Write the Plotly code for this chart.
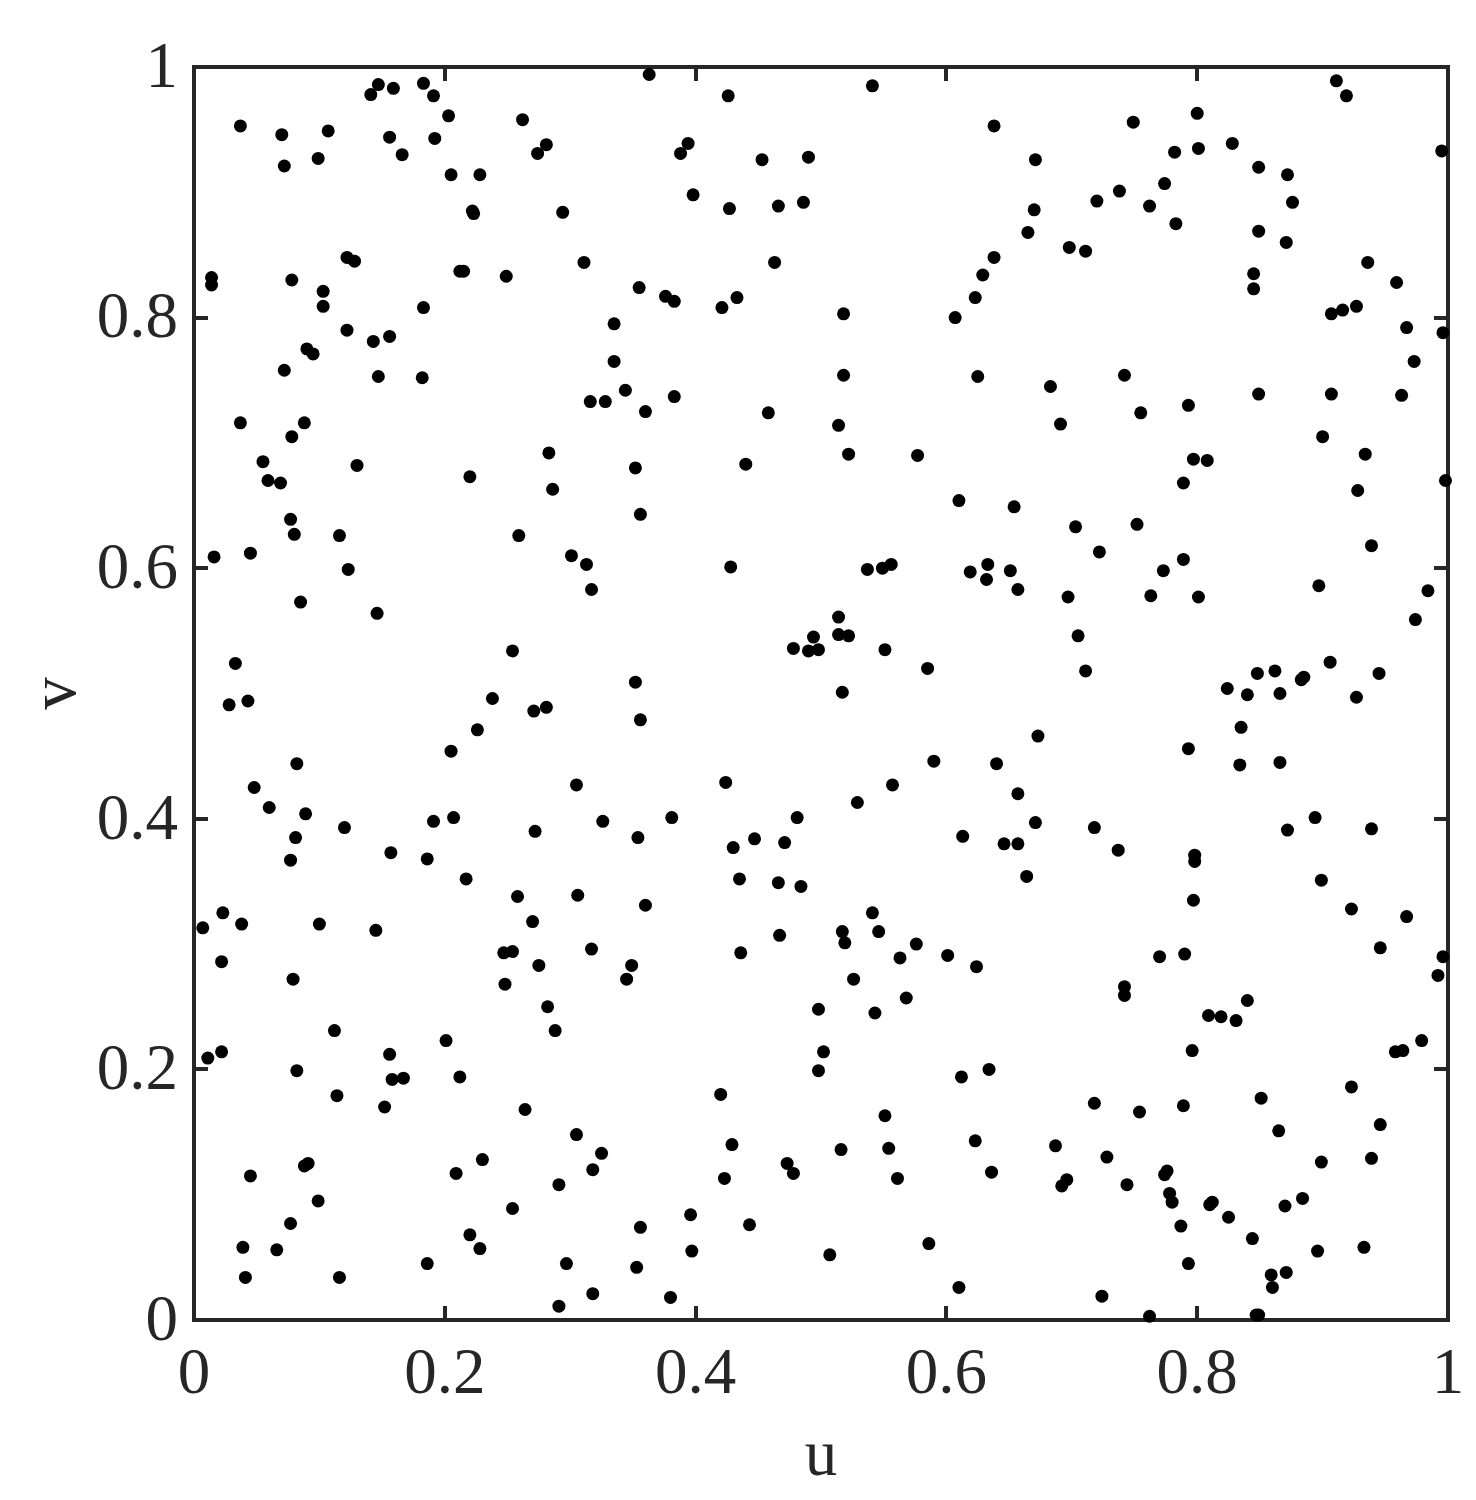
import plotly.graph_objects as go

# points, top to bottom
u = [
    .363, .147, .183, .159, .141, .191, .541, .911, .919, .426, .203, .800, .037, .262, .749, .638,
    .107, .070, .156, .192, .281, .394, .828, .166, .274, .388, .801, .782, .099, .453, .490, .995,
    .072, .671, .849, .205, .228, .872, .774, .398, .738, .720, .486, .876, .762, .427, .466, .222,
    .223, .294, .670, .783, .849, .665, .871, .698, .711, .014, .014, .122, .128, .311, .463, .638,
    .936, .212, .215, .249, .629, .845, .078, .959, .103, .355, .845, .376, .383, .623, .433, .103,
    .421, .927, .183, .916, .907, .518, .607, .335, .967, .122, .996, .156, .143, .090, .095, .335,
    .973, .072, .147, .518, .742, .625, .182, .683, .344, .963, .849, .383, .907, .316, .328, .360,
    .793, .458, .755, .514, .037, .088, .691, .078, .900, .283, .522, .934, .577, .797, .808, .440,
    .055, .130, .352, .220, .059, .069, .789, .998, .286, .928, .610, .654, .356, .077, .703, .752,
    .080, .116, .259, .939, .722, .045, .016, .301, .313, .428, .537, .549, .556, .633, .619, .773,
    .651, .789, .123, .632, .897, .317, .657, .984, .697, .763, .801, .085, .146, .514, .974, .705,
    .514, .522, .494, .478, .490, .498, .551, .254, .906, .033, .585, .711, .945, .862, .848, .883,
    .885, .352, .824, .517, .866, .840, .238, .927, .028, .043, .271, .281, .356, .835, .226, .673,
    .205, .793, .590, .082, .640, .866, .834, .048, .557, .305, .424, .657, .529, .060, .089, .381,
    .207, .481, .191, .326, .671, .894, .120, .718, .939, .872, .272, .081, .354, .613, .447, .471,
    .646, .657, .430, .737, .157, .798, .798, .186, .077, .664, .217, .435, .899, .466, .484, .258,
    .306, .797, .360, .923, .541, .967, .023, .038, .100, .270, .007, .145, .546, .517, .467, .519,
    .576, .317, .946, .254, .247, .436, .790, .601, .770, .563, .996, .022, .349, .275, .624, .992,
    .079, .345, .526, .742, .248, .742, .568, .840, .282, .498, .543, .809, .819, .831, .112, .288,
    .201, .979, .011, .022, .156, .964, .958, .502, .796, .082, .634, .498, .212, .158, .167, .612,
    .923, .114, .420, .851, .718, .152, .789, .264, .754, .551, .946, .865, .305, .623, .429, .687,
    .516, .554, .325, .939, .230, .728, .899, .091, .088, .473, .318, .776, .774, .636, .478, .209,
    .045, .561, .423, .696, .692, .744, .291, .778, .780, .099, .884, .812, .810, .870, .254, .396,
    .825, .077, .443, .787, .356, .220, .844, .586, .039, .933, .066, .228, .397, .896, .507, .186,
    .297, .793, .353, .041, .116, .859, .871, .610, .860, .380, .318, .724, .291, .762, .847, .849,
]
v = [
    .994, .986, .987, .983, .978, .977, .985, .989, .977, .977, .961, .963, .953, .958, .956, .953,
    .949, .946, .944, .943, .938, .939, .939, .930, .931, .931, .935, .932, .927, .926, .928, .933,
    .921, .926, .920, .914, .914, .914, .907, .898, .901, .893, .892, .892, .889, .887, .889, .885,
    .883, .884, .886, .875, .869, .868, .860, .856, .853, .832, .826, .848, .845, .844, .844, .848,
    .844, .837, .837, .833, .834, .835, .830, .828, .821, .824, .823, .817, .813, .816, .816, .809,
    .808, .809, .808, .806, .803, .803, .800, .795, .792, .790, .788, .785, .781, .775, .771, .765,
    .765, .758, .753, .754, .754, .753, .752, .745, .742, .738, .739, .737, .739, .733, .733, .725,
    .730, .724, .724, .714, .716, .716, .715, .705, .705, .692, .691, .691, .690, .687, .686, .683,
    .685, .682, .680, .673, .670, .668, .668, .670, .663, .662, .654, .649, .643, .639, .633, .635,
    .627, .626, .626, .618, .613, .612, .609, .610, .603, .601, .599, .600, .603, .603, .597, .598,
    .598, .607, .599, .591, .586, .583, .583, .582, .577, .578, .577, .573, .564, .561, .559, .546,
    .547, .546, .545, .536, .534, .535, .535, .534, .525, .524, .520, .518, .516, .518, .516, .511,
    .513, .509, .504, .501, .500, .499, .496, .497, .491, .494, .486, .489, .479, .473, .471, .466,
    .454, .456, .446, .444, .444, .445, .443, .425, .427, .427, .429, .420, .413, .409, .404, .401,
    .401, .401, .398, .398, .397, .401, .393, .393, .392, .391, .390, .385, .385, .386, .384, .381,
    .380, .380, .377, .375, .373, .371, .366, .368, .367, .354, .352, .352, .351, .349, .346, .338,
    .339, .335, .331, .328, .325, .322, .325, .316, .316, .318, .313, .311, .310, .310, .307, .301,
    .300, .296, .297, .294, .293, .293, .292, .291, .290, .289, .290, .286, .283, .283, .282, .275,
    .272, .272, .272, .266, .268, .259, .257, .255, .250, .248, .245, .243, .242, .239, .231, .231,
    .223, .223, .209, .214, .212, .215, .214, .214, .215, .199, .200, .199, .194, .192, .193, .194,
    .186, .179, .180, .177, .173, .170, .171, .168, .166, .163, .156, .151, .148, .143, .140, .139,
    .136, .137, .133, .129, .128, .130, .126, .125, .123, .125, .120, .119, .116, .118, .117, .117,
    .115, .113, .113, .112, .107, .108, .108, .101, .094, .095, .097, .094, .092, .091, .089, .084,
    .082, .077, .076, .075, .074, .068, .065, .061, .058, .058, .056, .057, .055, .055, .052, .045,
    .045, .045, .042, .034, .034, .036, .038, .026, .026, .018, .021, .019, .011, .003, .004, .004,
]

tick_vals = [0, 0.2, 0.4, 0.6, 0.8, 1]
tick_text = ["0", "0.2", "0.4", "0.6", "0.8", "1"]
axis_color = "#262626"
font_name = "Liberation Serif"

fig = go.Figure()
fig.add_trace(
    go.Scatter(
        x=u,
        y=v,
        mode="markers",
        marker=dict(color="black", size=13, line=dict(width=0)),
        cliponaxis=False,
        showlegend=False,
    )
)

# frame as a paper shape, so it sits centred on 0 and 1 and is not clipped to half its width
fig.add_shape(
    type="rect",
    xref="paper",
    yref="paper",
    x0=0,
    x1=1,
    y0=0,
    y1=1,
    line=dict(color=axis_color, width=4),
    layer="below",
)

axis_style = dict(
    range=[0, 1],
    tickmode="array",
    tickvals=tick_vals,
    ticktext=tick_text,
    ticks="inside",
    ticklen=14,
    tickwidth=4,
    tickcolor=axis_color,
    showline=False,
    mirror="ticks",
    showgrid=False,
    zeroline=False,
    tickfont=dict(family=font_name, size=65, color=axis_color),
)
fig.update_xaxes(
    title=dict(text="u", font=dict(family=font_name, size=65, color=axis_color), standoff=23),
    ticklabelstandoff=7,
    **axis_style,
)
fig.update_yaxes(
    title=dict(text="v", font=dict(family=font_name, size=65, color=axis_color), standoff=0),
    ticklabelstandoff=15,
    ticklabelshift=-3,
    **axis_style,
)

fig.update_layout(
    width=1476,
    height=1500,
    margin=dict(l=186, r=36, t=59, b=188, autoexpand=False),
    paper_bgcolor="white",
    plot_bgcolor="white",
)

fig.write_html("out.html")
